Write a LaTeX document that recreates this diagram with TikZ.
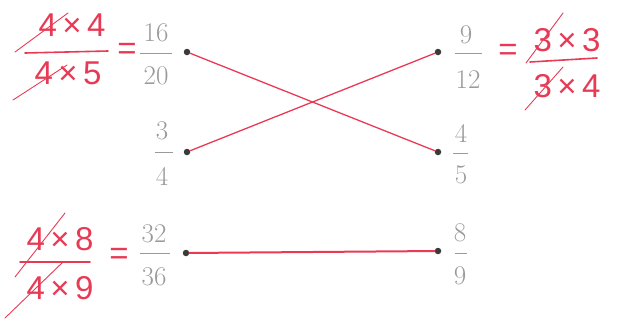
\documentclass[tikz,border=0pt]{standalone}
\usepackage{fontspec}
\newfontfamily\handfont{Liberation Sans}
\definecolor{pen}{HTML}{E83A55}
\definecolor{pencil}{HTML}{9A9A9A}
\definecolor{dotc}{HTML}{3A3A3A}
\tikzset{
  gnum/.style={text=pencil, font=\fontsize{27}{27}\selectfont, inner sep=0pt},
  gbar/.style={draw=pencil, line width=0.6pt},
  rtxt/.style={text=pen, font=\handfont\fontsize{33}{33}\selectfont, inner sep=0pt},
  rline/.style={draw=pen, line width=1.6pt, line cap=round},
  rslash/.style={draw=pen, line width=0.9pt, line cap=round},
  redge/.style={draw=pen, line width=1.3pt, line cap=round},
  dotn/.style={circle, fill=dotc, inner sep=0pt, minimum size=6.5pt},
}
\begin{document}
\begin{tikzpicture}[x=1pt,y=-1pt]
\useasboundingbox (0,0) rectangle (620,322);
% grey fractions
\node[gnum] (an) at (156,33) {16};
\node[gnum] (ad) at (156,76) {20};
\draw[gbar] (140,53) -- (172,53);
\node[gnum] (bn) at (162,131) {3};
\node[gnum] (bd) at (162,176) {4};
\draw[gbar] (155,152) -- (173,152);
\node[gnum] (cn) at (154,234) {32};
\node[gnum] (cd) at (154,277) {36};
\draw[gbar] (140,253) -- (170,253);
\node[gnum] (dn) at (466,35) {9};
\node[gnum] (dd) at (468,80) {12};
\draw[gbar] (455,53) -- (482,53);
\node[gnum] (en) at (461,133) {4};
\node[gnum] (ed) at (461,175) {5};
\draw[gbar] (453,153) -- (468,153);
\node[gnum] (fn) at (460,233) {8};
\node[gnum] (fd) at (460,276) {9};
\draw[gbar] (455,253) -- (467,253);
% dots
\node[dotn] (a) at (187,52) {};
\node[dotn] (b) at (187,152) {};
\node[dotn] (c) at (186,253) {};
\node[dotn] (d) at (438,52) {};
\node[dotn] (e) at (438,152) {};
\node[dotn] (f) at (438,251) {};
% connectors
\draw[redge] (a) -- (e);
\draw[redge] (b) -- (d);
\draw[redge, line width=2pt] (c) -- (f);
% red fraction 1
\node[rtxt] (r1n) at (72,25) {4\,×\,4};
\node[rtxt] (r1d) at (68,73) {4\,×\,5};
\draw[rline] (25,53) -- (108,51);
\draw[rslash] (15,52) -- (68,13);
\draw[rslash] (13,100) -- (67,65);
\node[rtxt] (eq1) at (127,51) {=};
% red fraction 2
\node[rtxt] (eq2) at (508,52) {=};
\node[rtxt] (r2n) at (567,40) {3\,×\,3};
\node[rtxt] (r2d) at (567,86) {3\,×\,4};
\draw[rline] (530,62) -- (597,58);
\draw[rslash] (526,63) -- (563,13);
\draw[rslash] (525,110) -- (563,67);
% red fraction 3
\node[rtxt] (r3n) at (60,239) {4\,×\,8};
\node[rtxt] (r3d) at (60,288) {4\,×\,9};
\draw[rline] (20,262) -- (90,262);
\draw[rslash] (15,277) -- (65,213);
\draw[rslash] (5,318) -- (63,262);
\node[rtxt] (eq3) at (119,256) {=};
\end{tikzpicture}
\end{document}
